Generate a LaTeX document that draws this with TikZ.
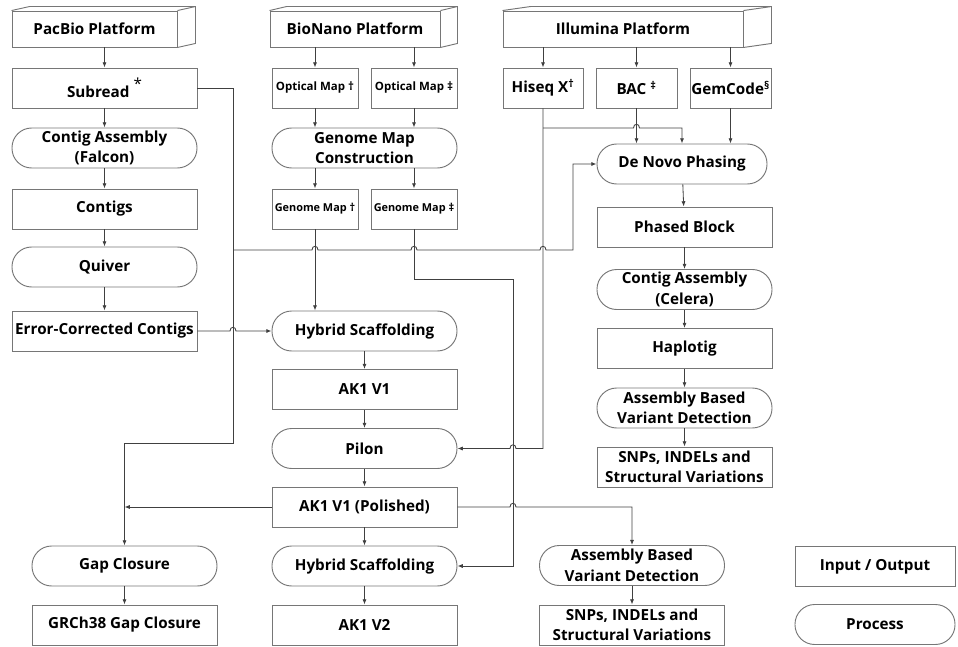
\documentclass[tikz,border=0pt]{standalone}
\usepackage{fontspec}
\setmainfont{Open Sans}
\usetikzlibrary{arrows.meta}
\definecolor{edgegray}{HTML}{767676}
\definecolor{linegray}{HTML}{404040}
\newcommand{\hopr}[2]{-- (#1-3,#2) .. controls (#1-3,#2-5) and (#1+3,#2-5) .. (#1+3,#2)}
\newcommand{\hopl}[2]{-- (#1+3,#2) .. controls (#1+3,#2-5) and (#1-3,#2-5) .. (#1-3,#2)}
\newcommand{\cuboid}[2]{\draw[edgegray, line width=0.8pt] (#1.north west) -- ++(#2,-4) -- ([shift={(#2,-4)}]#1.north east) -- ([shift={(#2,-4)}]#1.south east) -- (#1.south east) (#1.north east) -- ++(#2,-4);}
\begin{document}
\begin{tikzpicture}[x=0.03cm, y=-0.03cm, font=\fontsize{13}{17.5}\selectfont\bfseries,
  box/.style={draw=edgegray, line width=0.8pt, minimum height=1.2cm, minimum width=5.55cm, inner xsep=1pt, inner ysep=0.5pt, align=center},
  proc/.style={box, rounded corners=0.59cm},
  plat/.style={box, minimum height=1.08cm},
  small/.style={box, minimum width=2.58cm, font=\fontsize{9.8}{11}\selectfont\bfseries},
  wire/.style={draw=linegray, line width=0.7pt},
  link/.style={wire, -{Latex[length=4.5pt,width=3.5pt]}}]
\useasboundingbox (0,0) rectangle (958,646);

\node[plat, minimum width=4.95cm] (pacbio) at (94.5,29) {PacBio Platform};
\node[box] (subread) at (104.5,88) {Subread \raisebox{0.9ex}{\mdseries *}};
\node[proc] (falcon) at (104.5,148) {Contig Assembly\\(Falcon)};
\node[box] (contigs) at (104.5,209) {Contigs};
\node[proc] (quiver) at (104.5,267) {Quiver};
\node[box] (ecc) at (104.5,331) {Error-Corrected Contigs};
\node[proc] (gap) at (124.5,566) {Gap Closure};
\node[box] (grch) at (124.5,625) {GRCh38 Gap Closure};

\node[plat, minimum width=5.1cm] (bionano) at (355,29) {BioNano Platform};
\node[small] (optA) at (315,88) {Optical Map †};
\node[small] (optB) at (414,88) {Optical Map ‡};
\node[proc] (gmc) at (364.5,148) {Genome Map\\Construction};
\node[small, font=\fontsize{9.3}{11}\selectfont\bfseries] (gmA) at (315,209) {Genome Map †};
\node[small, font=\fontsize{9.3}{11}\selectfont\bfseries] (gmB) at (414,209) {Genome Map ‡};
\node[proc] (hyb) at (364.5,331) {Hybrid Scaffolding};
\node[box] (akone) at (364.5,389.5) {AK1 V1};
\node[proc] (pilon) at (364.5,448.5) {Pilon};
\node[box] (polished) at (364.5,507) {AK1 V1 (Polished)};
\node[proc] (hybtwo) at (364.5,566) {Hybrid Scaffolding};
\node[box] (aktwo) at (364.5,625) {AK1 V2};

\node[plat, minimum width=7.2cm] (illumina) at (623,29) {Illumina Platform};
\node[box, minimum width=2.4cm] (hiseq) at (543,88) {Hiseq X\textsuperscript{†}};
\node[box, minimum width=2.43cm] (bac) at (636.5,88) {BAC \textsuperscript{‡}};
\node[box, minimum width=2.43cm] (gem) at (730.5,88) {GemCode\textsuperscript{§}};
\node[proc, minimum width=5.1cm] (denovo) at (682,164) {De Novo Phasing};
\node[box, minimum width=5.25cm] (phased) at (684.5,227) {Phased Block};
\node[proc, minimum width=5.25cm] (celera) at (684.5,289.5) {Contig Assembly\\(Celera)};
\node[box, minimum width=5.25cm] (haplo) at (684.5,348.5) {Haplotig};
\node[proc, minimum width=5.25cm] (abvd) at (684.5,408) {Assembly Based\\Variant Detection};
\node[box, minimum width=5.25cm] (snps) at (684.5,467) {SNPs, INDELs and\\Structural Variations};
\node[proc] (abvdtwo) at (632,565.5) {Assembly Based\\Variant Detection};
\node[box] (snpstwo) at (632,625) {SNPs, INDELs and\\Structural Variations};

\node[box, minimum width=4.8cm] (legio) at (875,566.5) {Input / Output};
\node[proc, minimum width=4.8cm] (legproc) at (875,624.5) {Process};

\cuboid{pacbio}{18}
\cuboid{bionano}{17}
\cuboid{illumina}{28}

\coordinate (jsub) at (233,250);
\coordinate (jhis) at (543,128);

\draw[link] (pacbio.south -| subread) -- (subread.north);
\draw[link] (subread) -- (falcon);
\draw[link] (falcon) -- (contigs);
\draw[link] (contigs) -- (quiver);
\draw[link] (quiver) -- (ecc);
\draw[link] (gap) -- (grch);
\draw[link] (subread.east) -| (233,443) -| (gap.north);
\draw[link] (jsub) \hopr{315}{250} \hopr{414}{250} \hopr{543}{250} -- (573,250) |- (denovo.west);
\draw[link] (ecc.east) \hopr{233}{331} -- (hyb.west);
\draw[link] (polished.west) -- (polished.west -| gap.north);

\draw[link] (bionano.south -| optA) -- (optA.north);
\draw[link] (bionano.south -| optB) -- (optB.north);
\draw[link] (optA.south) -- (optA.south |- gmc.north);
\draw[link] (optB.south) -- (optB.south |- gmc.north);
\draw[link] (gmA |- gmc.south) -- (gmA.north);
\draw[link] (gmB |- gmc.south) -- (gmB.north);
\draw[link] (gmA.south) -- (gmA.south |- hyb.north);
\draw[link] (gmB.south) |- (513,279) |- (hybtwo.east);
\draw[link] (hyb) -- (akone);
\draw[link] (akone) -- (pilon);
\draw[link] (pilon) -- (polished);
\draw[link] (polished) -- (hybtwo);
\draw[link] (hybtwo) -- (aktwo);

\draw[link] (illumina.south -| hiseq) -- (hiseq.north);
\draw[link] (illumina.south -| bac) -- (bac.north);
\draw[link] (illumina.south -| gem) -- (gem.north);
\draw[link] (hiseq.south) -- (543,448.5) \hopl{513}{448.5} -- (pilon.east);
\draw[link] (jhis) \hopr{636.5}{128} -- (denovo.north |- jhis) -- (denovo.north);
\draw[link] (bac.south) -- (bac.south |- denovo.north);
\draw[link] (gem.south) -- (gem.south |- denovo.north);
\draw[link] (denovo) -- (phased);
\draw[link] (phased) -- (celera);
\draw[link] (celera) -- (haplo);
\draw[link] (haplo) -- (abvd);
\draw[link] (abvd) -- (snps);
\draw[link] (polished.east) \hopr{513}{507} -- (632,507) -- (abvdtwo.north);
\draw[link] (abvdtwo) -- (snpstwo);
\end{tikzpicture}
\end{document}
